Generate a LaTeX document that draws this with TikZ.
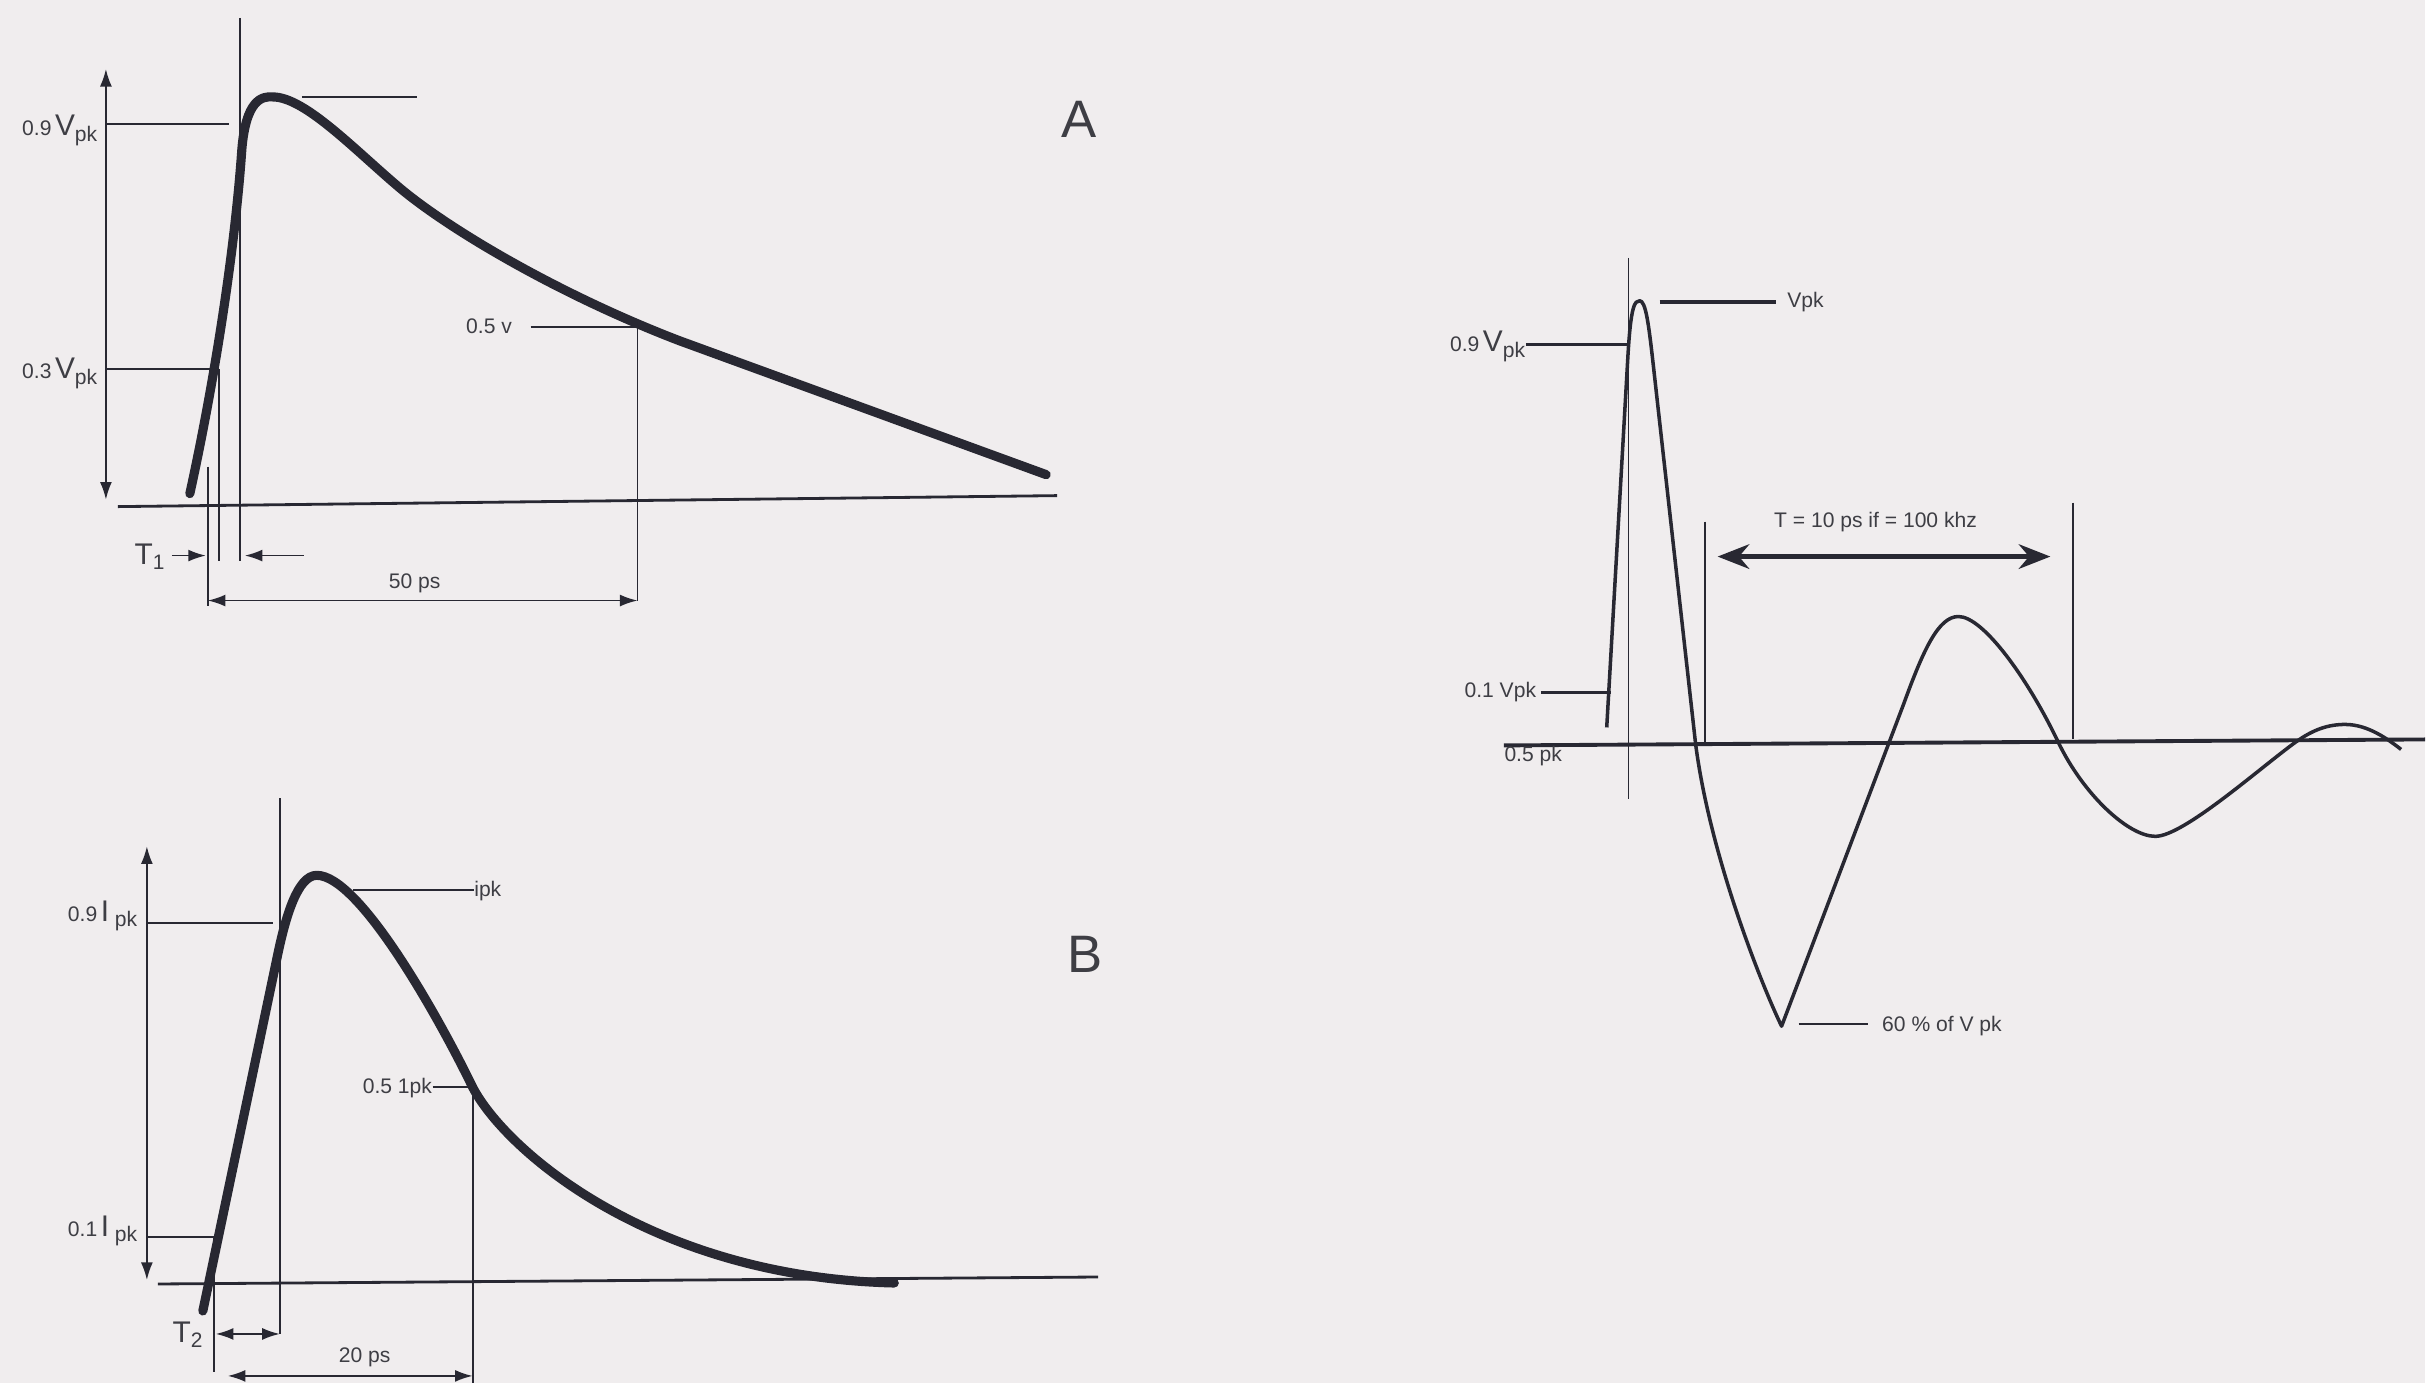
\documentclass[tikz,border=0pt]{standalone}
\usepackage{fontspec}
\setmainfont{Liberation Sans}
\usetikzlibrary{positioning, arrows.meta}

\definecolor{paper}{RGB}{240,237,238}
\definecolor{ink}{RGB}{40,40,50}
\definecolor{textink}{RGB}{62,62,68}

% small label with a big letter and "pk"
\newcommand{\pklabel}[3]{#1\,{\fontsize{8.5}{9}\selectfont #2}#3\raisebox{-1.6pt}{pk}}

\tikzset{
  wave/.style={draw=ink, line width=2.6pt, line cap=round, line join=round},
  ring/.style={draw=ink, line width=1pt, line join=round},
  guide/.style={draw=ink, line width=0.5pt},
  baseline/.style={draw=ink, line width=0.8pt},
  dim/.style={guide, {Latex[length=5pt,width=3.4pt]}-{Latex[length=5pt,width=3.4pt]}},
  pointer/.style={guide, -{Latex[length=5pt,width=3.4pt]}},
  tag/.style={text=textink, inner sep=0pt, font=\fontsize{6}{7}\selectfont},
  tname/.style={text=textink, inner sep=0pt, font=\fontsize{8.5}{9}\selectfont},
  panel/.style={text=textink, inner sep=0pt, font=\fontsize{15}{16}\selectfont},
}

\begin{document}
\begin{tikzpicture}[x=0.01cm, y=-0.01cm]
    \fill[paper] (0,0) rectangle (2427,1384);

    % Panel A
    \draw[wave] (190,494) .. controls (215,380) and (235,250) .. (242,150)
        .. controls (246,100) and (262,96) .. (273,97)
        .. controls (305,97) and (355,150) .. (400,188)
        .. controls (450,230) and (560,295) .. (680,341) -- (1047,475);
    \draw[baseline] (118,507) -- (1058,496);
    \coordinate (aTop) at (106,69);
    \coordinate (aBot) at (106,500);
    \draw[dim] (aTop) -- (aBot);
    \draw[guide] (240,18) -- (240,561);
    \draw[guide] (302,97) -- (417,97);

    \node[tag, anchor=base east] (a09) at (98,136) {\pklabel{0.9}{V}{}};
    \node[tag, anchor=base east] (a03) at (98,379) {\pklabel{0.3}{V}{}};
    \draw[guide] (106,124) -- (229,124);
    \draw[guide] (106,369) -- (215,369);

    \node[tag, anchor=base east] (a05) at (513,334) {0.5 v};
    \coordinate (a05p) at (638,327);
    \draw[guide] (531,327) -- (a05p);
    \coordinate (a05b) at (638,601);
    \draw[guide] (a05p) -- (a05b);

    \draw[guide] (208,467) -- (208,606);
    \draw[guide] (219,369) -- (219,561);
    \node[tname, anchor=base west] (tone) at (134,565) {T\textsubscript{1}};
    \draw[pointer] (172,556) -- (206,556);
    \draw[pointer] (304,556) -- (245,556);

    \coordinate (a50l) at (208,601);
    \draw[dim] (a50l) -- (a05b);
    \node[tag, anchor=base] (a50) at (415,589) {50 ps};
    \node[panel, anchor=base] (lblA) at (1080,138) {A};

    % Panel B
    \draw[wave] (203,1312) -- (278,955)
        .. controls (286,917) and (298,876) .. (317,876)
        .. controls (360,876) and (440,1020) .. (473,1088)
        .. controls (505,1150) and (650,1278) .. (895,1284);
    \draw[baseline] (158,1285) -- (1099,1278);
    \draw[dim] (147,847) -- (147,1281);
    \draw[guide] (280,799) -- (280,1335);

    \node[tag, anchor=base east] (b09) at (138,922) {\pklabel{0.9}{I}{\ }};
    \node[tag, anchor=base east] (b01) at (138,1237) {\pklabel{0.1}{I}{\ }};
    \draw[guide] (147,924) -- (273,924);
    \draw[guide] (147,1238) -- (214,1238);

    \node[tag, anchor=base west] (bpk) at (474,897) {ipk};
    \draw[guide] (353,891) -- (bpk.west |- 353,891);
    \node[tag, anchor=base east] (b05) at (433,1094) {0.5 1pk};
    \coordinate (b05p) at (473,1088);
    \draw[guide] (433,1088) -- (b05p);
    \draw[guide] (b05p) -- (473,1384);

    \draw[guide] (214,1238) -- (214,1373);
    \node[tname, anchor=base west] (ttwo) at (172,1344) {T\textsubscript{2}};
    \draw[dim] (216,1335) -- (280,1335);
    \draw[dim] (228,1377) -- (473,1377);
    \node[tag, anchor=base] (b20) at (365,1364) {20 ps};
    \node[panel, anchor=base] (lblB) at (1086,973) {B};

    % Ringing wave
    \draw[ring] (1608,728) -- (1629,360)
        .. controls (1632,305) and (1636,301) .. (1641,301)
        .. controls (1647,301) and (1650,325) .. (1654,360) -- (1697,745)
        .. controls (1712,860) and (1765,990) .. (1783,1027) -- (1905,705)
        .. controls (1925,650) and (1940,617) .. (1960,617)
        .. controls (1985,617) and (2030,680) .. (2060,743)
        .. controls (2085,795) and (2130,837) .. (2157,837)
        .. controls (2185,837) and (2260,770) .. (2297,743)
        .. controls (2315,730) and (2330,725) .. (2347,725)
        .. controls (2370,725) and (2390,740) .. (2403,750);
    \draw[ring, line width=1.1pt] (1505,746) -- (2427,740);
    \draw[guide, line width=0.4pt] (1630,258) -- (1630,800);

    \node[tag, anchor=base west] (cpk) at (1788,308) {Vpk};
    \draw[ring] (1661,302) -- (1777,302);
    \node[tag, anchor=base east] (c09) at (1527,352) {\pklabel{0.9}{V}{}};
    \draw[ring] (1527,345) -- (1630,345);
    \node[tag, anchor=base east] (c01) at (1538,698) {0.1 Vpk};
    \draw[ring] (1542,693) -- (1612,693);
    \node[tag, anchor=base west] (c05) at (1505,762) {0.5 pk};

    \draw[guide] (1706,522) -- (1706,744);
    \draw[guide] (2075,503) -- (2075,740);
    \coordinate (tl) at (1719,557);
    \coordinate (tr) at (2052,557);
    \draw[draw=ink, line width=1.3pt, {Stealth[length=9pt,width=7pt]}-{Stealth[length=9pt,width=7pt]}] (tl) -- (tr);
    \node[tag, anchor=base] (tper) at (1877,528) {T = 10 ps if = 100 khz};

    \node[tag, anchor=base west] (c60) at (1883,1032) {60 \% of V pk};
    \draw[guide] (1800,1025) -- (1869,1025);
\end{tikzpicture}
\end{document}
